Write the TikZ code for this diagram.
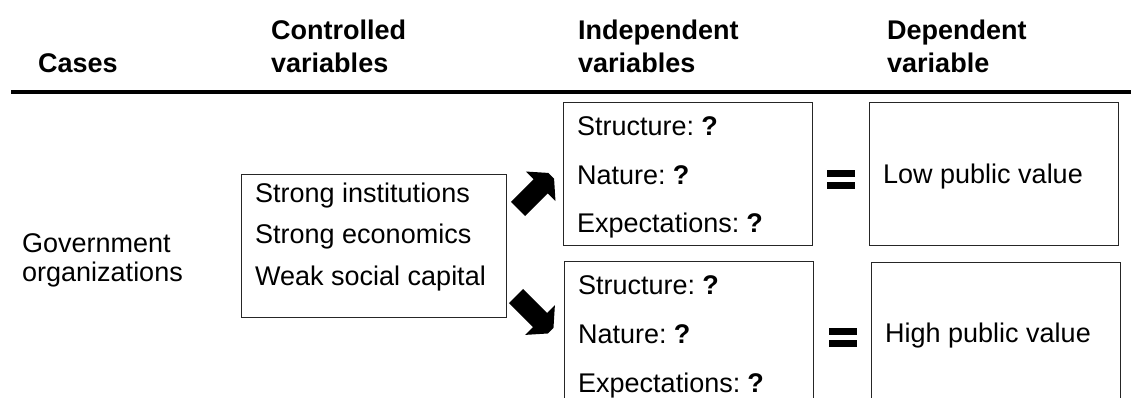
\documentclass[tikz,border=0pt]{standalone}
\usepackage{fontspec}
\setmainfont{Liberation Sans}
\newcommand{\qmark}{\hspace{-3pt}\textbf{?}}
\begin{document}
\begin{tikzpicture}[x=1pt,y=-1pt,
  box/.style={draw=black!85, line width=1.3pt, inner sep=0pt, anchor=north west, minimum width=249pt},
  txt/.style={anchor=base west, inner sep=0pt, font=\fontsize{27}{32}\selectfont},
  head/.style={anchor=base west, inner sep=0pt, font=\fontsize{27}{32}\selectfont\bfseries},
  blockarrow/.style={fill=black, draw=none},
  eqbar/.style={fill=black, draw=none}]
\useasboundingbox (0,0) rectangle (1131,397);
\clip (0,0) rectangle (1131,397);

% headers
\node[head] (hcases) at (38,72) {Cases};
\node[head] (hctrl1) at (271,39) {Controlled};
\node[head] (hctrl2) at (271,72) {variables};
\node[head] (hind1) at (578,39) {Independent};
\node[head] (hind2) at (578,72) {variables};
\node[head] (hdep1) at (887,39) {Dependent};
\node[head] (hdep2) at (887,72) {variable};
\draw[line width=4pt] (11,92) -- (1131,92);

% cases
\node[txt] (gov1) at (22,252) {Government};
\node[txt] (gov2) at (22,281) {organizations};

% controlled box
\node[box, minimum width=265pt, minimum height=143pt] (ctrl) at (241,174) {};
\node[txt] (c1) at (255,202) {Strong institutions};
\node[txt] (c2) at (255,243) {Strong economics};
\node[txt] (c3) at (255,285) {Weak social capital};

% independent boxes
\node[box, minimum height=143pt] (ind1) at (563,102) {};
\node[txt] (i11) at (577,135) {Structure: \qmark};
\node[txt] (i12) at (577,184) {Nature: \qmark};
\node[txt] (i13) at (577,232) {Expectations: \qmark};

\node[box, minimum height=160pt] (ind2) at (564,261) {};
\node[txt] (i21) at (578,294) {Structure: \qmark};
\node[txt] (i22) at (578,343) {Nature: \qmark};
\node[txt] (i23) at (578,392) {Expectations: \qmark};

% dependent boxes
\node[box, minimum height=143pt] (dep1) at (869,102) {};
\node[txt] (d1) at (883,183) {Low public value};
\node[box, minimum height=160pt] (dep2) at (871,262) {};
\node[txt] (d2) at (885,342) {High public value};

% equals signs
\fill[eqbar] (827,170) rectangle (855,177);
\fill[eqbar] (827,182) rectangle (855,189);
\fill[eqbar] (829,328) rectangle (857,335);
\fill[eqbar] (829,340) rectangle (857,347);

% block arrows
\begin{scope}[shift={(518,209)}, rotate=45]
  \fill[blockarrow] (0,-10) -- (32,-10) -- (32,-21) -- (47,-4) -- (47,4) -- (32,21) -- (32,10) -- (0,10) -- cycle;
\end{scope}
\begin{scope}[shift={(516,296)}, rotate=-45]
  \fill[blockarrow] (0,-10) -- (34,-10) -- (34,-21) -- (49,-4) -- (49,4) -- (34,21) -- (34,10) -- (0,10) -- cycle;
\end{scope}
\end{tikzpicture}
\end{document}
